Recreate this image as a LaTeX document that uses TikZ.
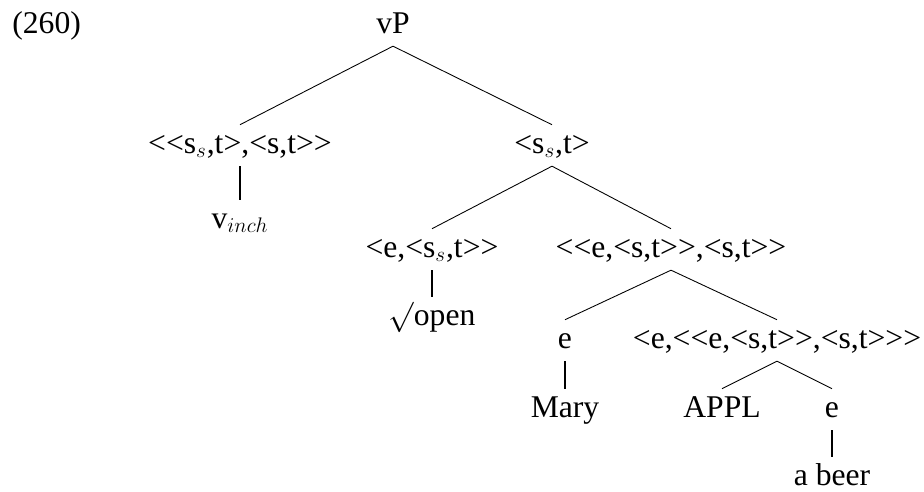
\documentclass[tikz,border=0pt]{standalone}
\usepackage{fontspec}
\setmainfont{Liberation Serif}[Ligatures=TeXOff]
\usepackage{tikz}
\usetikzlibrary{positioning}

\begin{document}
\begin{tikzpicture}[
            x=0.02cm, y=-0.02cm,
            font=\fontsize{18}{22}\selectfont,
            typ/.style={anchor=base, inner xsep=0pt, inner ysep=3.9pt, text height=12pt, text depth=3.4pt},
            branch/.style={line width=0.5pt},
            unary/.style={line width=1.4pt}
        ]
            \useasboundingbox (0,0) rectangle (924,491);
            \node[anchor=base west, inner sep=0pt] (ex) at (12,33) {(260)};

            \node[typ] (vp) at (393,33) {vP};
            \node[typ] (inch) at (240,153) {<<s$_s$,t>,<s,t>>};
            \node[typ] (sst) at (552,153) {<s$_s$,t>};
            \node[typ] (vinch) at (240,228) {v$_{inch}$};
            \node[typ] (root) at (432,257) {<e,<s$_s$,t>>};
            \node[typ] (appl) at (671,257) {<<e,<s,t>>,<s,t>>};
            \node[typ] (open) at (432,325) {$\surd$open};
            \node[typ] (subj) at (565,348) {e};
            \node[typ] (applbar) at (777,348) {<e,<<e,<s,t>>,<s,t>>>};
            \node[typ] (mary) at (565,417) {Mary};
            \node[typ] (applhead) at (722,417) {APPL};
            \node[typ] (obj) at (832,417) {e};
            \node[typ] (beer) at (832,485) {a beer};

            \draw[branch] (vp.south) -- (inch.north);
            \draw[branch] (vp.south) -- (sst.north);
            \draw[branch] (sst.south) -- (root.north);
            \draw[branch] (sst.south) -- (appl.north);
            \draw[branch] (appl.south) -- (subj.north);
            \draw[branch] (appl.south) -- (applbar.north);
            \draw[branch] (applbar.south) -- (applhead.north);
            \draw[branch] (applbar.south) -- (obj.north);
            \draw[unary] (inch.south) -- (vinch.north);
            \draw[unary] (root.south) -- (open.north);
            \draw[unary] (subj.south) -- (mary.north);
            \draw[unary] (obj.south) -- (beer.north);
        \end{tikzpicture}
\end{document}
